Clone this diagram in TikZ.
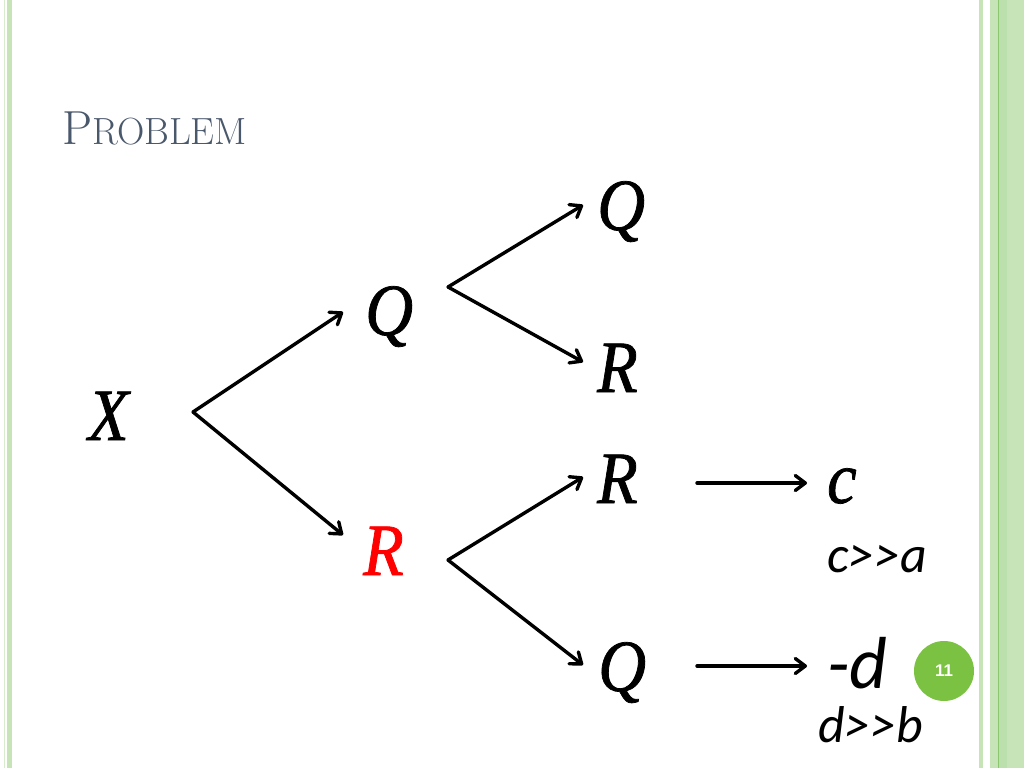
\documentclass[tikz,border=0pt]{standalone}
\usepackage{fontspec}
\usetikzlibrary{arrows.meta,calc}
\newfontfamily\bigserif{Liberation Serif}[ItalicFeatures={FakeBold=1.0,FakeStretch=0.9}]
\newfontfamily\calfont{Carlito}
\newfontfamily\numfont{Liberation Sans}
\definecolor{stripe}{HTML}{C6E4B8}
\definecolor{stripedark}{HTML}{8CC770}
\definecolor{stripemid}{HTML}{BCDFAE}
\definecolor{titlecol}{HTML}{4A586C}
\definecolor{badge}{HTML}{7CC242}
\begin{document}
\begin{tikzpicture}[x=1bp,y=-1bp,
  lbl/.style={inner sep=0pt, anchor=base west, font=\bigserif\itshape\fontsize{74}{80}\selectfont},
  small/.style={inner sep=0pt, anchor=base west, font=\calfont\itshape\fontsize{52}{58}\selectfont},
  large/.style={inner sep=0pt, anchor=base west, font=\calfont\itshape\fontsize{74}{80}\selectfont},
  arr/.style={line width=3.4bp, line cap=round, -{Straight Barb[length=10bp,width=15bp,line cap=round,line join=round]}}]
\useasboundingbox (0,0) rectangle (1024,768);
\fill[white] (0,0) rectangle (1024,768);
% left border
\fill[stripe!70] (4,0) rectangle (5.3,768);
\fill[stripe] (7.3,0) rectangle (12.3,768);
% right border
\fill[stripe] (979,0) rectangle (983.3,768);
\fill[stripe] (990,0) rectangle (1024,768);
\fill[stripemid] (999,0) rectangle (1007,768);
\fill[stripedark] (998,0) rectangle (999.2,768);
% title
\node[inner sep=0pt, anchor=base west, text=titlecol] (title) at (62,144)
  {\fontsize{48}{52}\selectfont P\fontsize{38}{42}\selectfont ROBLEM};
% tree labels
\node[lbl] (X) at (88,440) {X};
\node[lbl] (Q1) at (365,335) {Q};
\node[lbl, text=red] (R1) at (363,575) {R};
\node[lbl] (Q2) at (597,230) {Q};
\node[lbl] (R2) at (597,392) {R};
\node[lbl] (R3) at (597,503) {R};
\node[lbl] (Q3) at (598,691) {Q};
\node[lbl] (c) at (827,503) {c};
\node[small] (ca) at (827,572) {c>>a};
\node[large] (d) at (827,688) {-d};
\node[small] (db) at (818,742) {d>>b};
% connector points
\coordinate (a1) at (193,412);
\coordinate (e1u) at (343,312);
\coordinate (e1d) at (343,535);
\coordinate (a2) at (448,287);
\coordinate (e2u) at (583,205);
\coordinate (e2d) at (583,362);
\coordinate (a3) at (448,560);
\coordinate (e3u) at (583,477);
\coordinate (e3d) at (583,665);
\coordinate (h1s) at (697,483);
\coordinate (h1e) at (807,483);
\coordinate (h2s) at (697,666);
\coordinate (h2e) at (807,666);
\draw[arr] (a1) -- (e1u);
\draw[arr] (a1) -- (e1d);
\draw[arr] (a2) -- (e2u);
\draw[arr] (a2) -- (e2d);
\draw[arr] (a3) -- (e3u);
\draw[arr] (a3) -- (e3d);
\draw[arr] (h1s) -- (h1e);
\draw[arr] (h2s) -- (h2e);
% page number
\node[circle, fill=badge, minimum size=60bp, inner sep=0pt, text=white,
  font=\numfont\bfseries\fontsize{17}{20}\selectfont] (pg) at (944,671) {11};
\end{tikzpicture}
\end{document}
